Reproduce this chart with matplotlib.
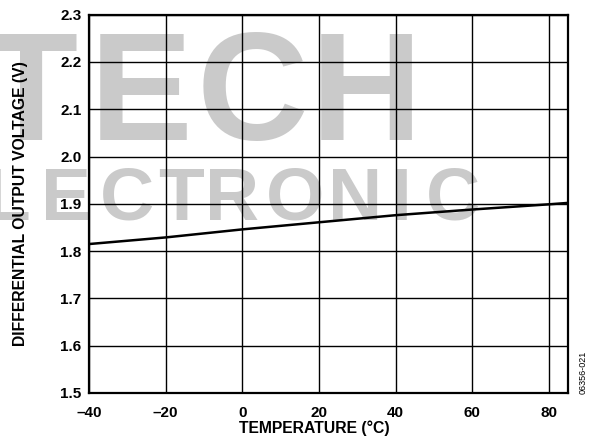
import matplotlib
matplotlib.use("Agg")
import matplotlib.pyplot as plt
from matplotlib.ticker import FixedLocator

plt.rcParams['font.family'] = ['Liberation Sans', 'DejaVu Sans']

temperature = [-40, -20, 0, 20, 40, 60, 80, 85]
voltage = [1.815, 1.829, 1.846, 1.861, 1.876, 1.888, 1.899, 1.902]
xticks = [-40, -20, 0, 20, 40, 60, 80]
xtick_labels = ['\u201340', '\u201320', '0', '20', '40', '60', '80']
yticks = [1.5, 1.6, 1.7, 1.8, 1.9, 2.0, 2.1, 2.2, 2.3]
ytick_labels = ['1.5', '1.6', '1.7', '1.8', '1.9', '2.0', '2.1', '2.2', '2.3']

W, H = 590, 446
AX_L, AX_R, AX_T, AX_B = 89, 568, 14.7, 393
fig = plt.figure(figsize=(W / 100, H / 100), dpi=100)
ax = fig.add_axes([AX_L / W, (H - AX_B) / H, (AX_R - AX_L) / W, (AX_B - AX_T) / H])
ax.patch.set_alpha(0)

# watermark (behind)
wm = '#cacaca'
for ch, cx in zip('TECH', [30, 141, 252, 366]):
    fig.text(cx / W, (H - 140) / H, ch, fontsize=111, fontweight='bold', color=wm,
             ha='center', va='baseline', zorder=-5)
for ch, cx in zip('LECTRONIC', [8, 66, 127, 181, 232, 295, 355, 401, 453]):
    fig.text(cx / W, (H - 220) / H, ch, fontsize=54, fontweight='bold', color=wm,
             ha='center', va='baseline', zorder=-5)

ax.plot(temperature, voltage, color='black', lw=1.8, zorder=3)

ax.set_xlim(-40, 85)
ax.set_ylim(1.5, 2.3)
ax.xaxis.set_major_locator(FixedLocator(xticks))
ax.yaxis.set_major_locator(FixedLocator(yticks))
ax.set_xticklabels(xtick_labels, fontsize=11, fontweight='bold')
ax.set_yticklabels(ytick_labels, fontsize=11, fontweight='bold')
ax.tick_params(axis='x', length=0, pad=9.5)
ax.tick_params(axis='y', length=0, pad=5.5)
ax.grid(True, color='black', lw=1.0)
for s in ax.spines.values():
    s.set_linewidth(1.6)

aw, ah = AX_R - AX_L, AX_B - AX_T
ax.set_xlabel('TEMPERATURE (\u00b0C)', fontsize=11.3, fontweight='bold')
ax.xaxis.set_label_coords((314 - AX_L) / aw, (AX_B - 420.5) / ah)
ax.set_ylabel('DIFFERENTIAL OUTPUT VOLTAGE (V)', fontsize=11.3, fontweight='bold')
ax.yaxis.set_label_coords((28 - AX_L) / aw, 0.5)

fig.text(583 / W, (H - 372) / H, '06356-021', rotation=90, fontsize=6.5,
         ha='center', va='center')

fig.savefig('out.png', dpi=100)
